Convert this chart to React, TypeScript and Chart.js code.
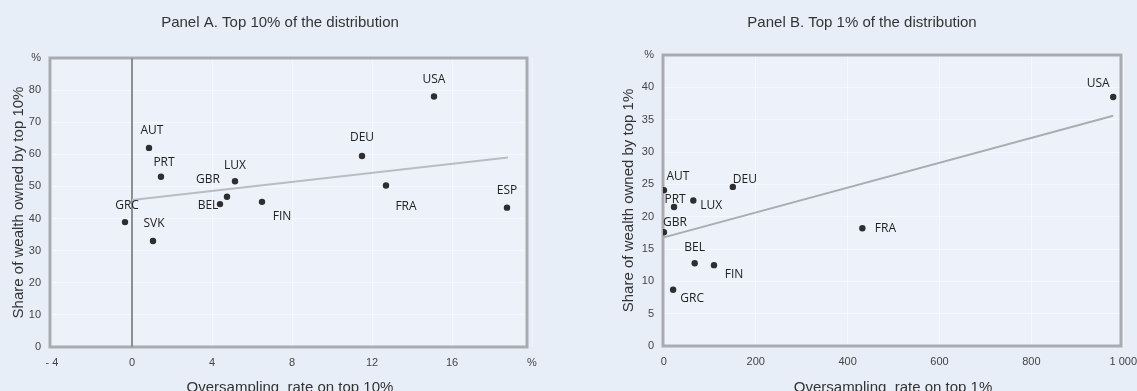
import React, { useEffect, useRef } from 'react';
import { Chart, registerables } from 'chart.js';
Chart.register(...registerables);

// ---------- Panel A data ----------
const countriesA = ['USA', 'DEU', 'FRA', 'ESP', 'AUT', 'PRT', 'LUX', 'GBR', 'BEL', 'FIN', 'GRC', 'SVK'];
const oversampA = [15.1, 11.5, 12.7, 18.75, 0.85, 1.45, 5.15, 4.75, 4.4, 6.5, -0.35, 1.05];
const shareA = [78, 59.5, 50.3, 43.4, 62, 53, 51.6, 46.8, 44.5, 45.2, 38.9, 33];
const trendAx = [0, 18.8];
const trendAy = [45.8, 59];
const xTicksA = [-4, 0, 4, 8, 12, 16, 20];
const yTicksA = [0, 10, 20, 30, 40, 50, 60, 70, 80, 90];
const labelDxA = [0, 0, 20, 0, 3, 3, 0, -19, -12, 20, 2, 1];
const labelDyA = [-17, -18, 21, -17, -17, -14, -16, -17, 1, 15, -17, -17];

// ---------- Panel B data ----------
const countriesB = ['USA', 'FRA', 'DEU', 'AUT', 'LUX', 'PRT', 'GBR', 'BEL', 'FIN', 'GRC'];
const oversampB = [978, 432, 150, 0, 64, 22, 0, 67, 109, 20];
const shareB = [38.5, 18.2, 24.6, 24.1, 22.5, 21.5, 17.6, 12.8, 12.5, 8.7];
const trendBx = [0, 978];
const trendBy = [16.8, 35.6];
const xTicksB = [0, 200, 400, 600, 800, 1000];
const yTicksB = [0, 5, 10, 15, 20, 25, 30, 35, 40, 45];
const labelDxB = [-15, 23, 12, 14, 18, 1, 11, 0, 20, 19];
const labelDyB = [-13, 0, -7, -14, 5, -7, -10, -16, 9, 9];

const W = 1137;
const H = 391;
const PAGE_BG = '#e8eef8';
const PLOT_BG = '#edf2fa';
const BORDER = '#a9abb1';
const TICK_FONT = { family: '"Liberation Sans", Arial, sans-serif', size: 11 };
const GRID = 'rgba(255,255,255,0.45)';

type PanelCfg = {
  names: string[];
  xs: number[];
  ys: number[];
  tx: number[];
  ty: number[];
  xTicks: number[];
  yTicks: number[];
  dx: number[];
  dy: number[];
  xMin: number;
  xMax: number;
  yMax: number;
  xLabel: (v: number) => string;
  yLabel: (v: number) => string;
  padding: { left: number; right: number; top: number; bottom: number };
  yAxisW: number;
  xAxisH: number;
  title: string;
  titleX: number;
  yTitle: string;
  yTitleX: number;
  xTitle: string;
  xTitleX: number;
  zeroLine: boolean;
  fillPage: boolean;
  trendColor: string;
};

function makeChart(canvas: HTMLCanvasElement, c: PanelCfg) {
  const deco = {
    id: 'deco' + c.title.slice(0, 7),
    beforeDraw(chart: any) {
      const ctx = chart.ctx;
      const a = chart.chartArea;
      ctx.save();
      if (c.fillPage) {
        ctx.fillStyle = PAGE_BG;
        ctx.fillRect(0, 0, W, H);
      }
      ctx.fillStyle = PLOT_BG;
      ctx.fillRect(a.left, a.top, a.right - a.left, a.bottom - a.top);
      ctx.restore();
    },
    beforeDatasetsDraw(chart: any) {
      const ctx = chart.ctx;
      const a = chart.chartArea;
      ctx.save();
      ctx.strokeStyle = BORDER;
      ctx.lineWidth = 3;
      ctx.strokeRect(a.left, a.top, a.right - a.left, a.bottom - a.top);
      if (c.zeroLine) {
        const x0 = chart.scales.x.getPixelForValue(0);
        ctx.strokeStyle = '#8d8f95';
        ctx.lineWidth = 2;
        ctx.beginPath();
        ctx.moveTo(x0, a.top);
        ctx.lineTo(x0, a.bottom);
        ctx.stroke();
      }
      ctx.restore();
    },
    afterDatasetsDraw(chart: any) {
      const ctx = chart.ctx;
      const meta = chart.getDatasetMeta(0);
      ctx.save();
      ctx.fillStyle = '#222';
      ctx.font = '12px "Open Sans", "Noto Sans", sans-serif';
      ctx.textAlign = 'center';
      ctx.textBaseline = 'middle';
      meta.data.forEach((pt: any, i: number) => {
        ctx.fillText(c.names[i], pt.x + c.dx[i], pt.y + c.dy[i]);
      });
      // titles
      ctx.fillStyle = '#333';
      ctx.font = '15px "Liberation Sans", Arial, sans-serif';
      ctx.textBaseline = 'alphabetic';
      ctx.fillText(c.title, c.titleX, 27);
      ctx.fillText(c.xTitle, c.xTitleX, 392);
      const a = chart.chartArea;
      ctx.translate(c.yTitleX, (a.top + a.bottom) / 2);
      ctx.rotate(-Math.PI / 2);
      ctx.textBaseline = 'middle';
      ctx.fillText(c.yTitle, 0, 0);
      ctx.restore();
    },
  };

  return new Chart(canvas, {
    type: 'scatter',
    data: {
      datasets: [
        {
          data: c.xs.map((x, i) => ({ x, y: c.ys[i] })),
          backgroundColor: '#2e2e30',
          borderColor: '#2e2e30',
          borderWidth: 0,
          pointRadius: 3.2,
          pointHoverRadius: 3.2,
        },
        {
          type: 'line',
          data: c.tx.map((x, i) => ({ x, y: c.ty[i] })),
          borderColor: c.trendColor,
          borderWidth: 2,
          pointRadius: 0,
          showLine: true,
          fill: false,
        } as any,
      ],
    },
    options: {
      responsive: false,
      animation: false,
      devicePixelRatio: 1,
      events: [],
      layout: { padding: c.padding },
      plugins: { legend: { display: false }, tooltip: { enabled: false }, title: { display: false } },
      scales: {
        x: {
          type: 'linear',
          min: c.xMin,
          max: c.xMax,
          border: { display: false },
          grid: { color: GRID, lineWidth: 1, drawTicks: false },
          ticks: {
            font: TICK_FONT,
            color: '#444',
            padding: 9,
            maxRotation: 0,
            autoSkip: false,
            callback: (v: any) => c.xLabel(Number(v)),
          },
          afterBuildTicks: (s: any) => {
            s.ticks = c.xTicks.map((v) => ({ value: v }));
          },
          afterFit: (s: any) => {
            s.height = c.xAxisH;
            s.paddingLeft = 0;
            s.paddingRight = 0;
          },
        },
        y: {
          type: 'linear',
          min: 0,
          max: c.yMax,
          border: { display: false },
          grid: { color: GRID, lineWidth: 1, drawTicks: false },
          ticks: {
            font: TICK_FONT,
            color: '#444',
            padding: 9,
            autoSkip: false,
            callback: (v: any) => c.yLabel(Number(v)),
          },
          afterBuildTicks: (s: any) => {
            s.ticks = c.yTicks.map((v) => ({ value: v }));
          },
          afterFit: (s: any) => {
            s.width = c.yAxisW;
            s.paddingTop = 0;
            s.paddingBottom = 0;
          },
        },
      },
    },
    plugins: [deco],
  } as any);
}

export default function App() {
  const refA = useRef<HTMLCanvasElement>(null);
  const refB = useRef<HTMLCanvasElement>(null);

  useEffect(() => {
    const chartA = makeChart(refA.current!, {
      names: countriesA,
      xs: oversampA,
      ys: shareA,
      tx: trendAx,
      ty: trendAy,
      xTicks: xTicksA,
      yTicks: yTicksA,
      dx: labelDxA,
      dy: labelDyA,
      xMin: -4.1,
      xMax: 19.75,
      yMax: 90,
      xLabel: (v) => (v === 20 ? '%' : v === -4 ? '- 4' : String(v)),
      yLabel: (v) => (v === 90 ? '%' : String(v)),
      padding: { left: 0, right: W - 527, top: 58, bottom: 0 },
      yAxisW: 50,
      xAxisH: H - 347,
      title: 'Panel A. Top 10% of the distribution',
      titleX: 280,
      yTitle: 'Share of wealth owned by top 10%',
      yTitleX: 19,
      xTitle: 'Oversampling  rate on top 10%',
      xTitleX: 290,
      zeroLine: true,
      fillPage: true,
      trendColor: '#b9bcc1',
    });
    const chartB = makeChart(refB.current!, {
      names: countriesB,
      xs: oversampB,
      ys: shareB,
      tx: trendBx,
      ty: trendBy,
      xTicks: xTicksB,
      yTicks: yTicksB,
      dx: labelDxB,
      dy: labelDyB,
      xMin: -2,
      xMax: 995,
      yMax: 45,
      xLabel: (v) => (v === 1000 ? '1 000' : String(v)),
      yLabel: (v) => (v === 45 ? '%' : String(v)),
      padding: { left: 663 - 50, right: W - 1121, top: 55, bottom: 0 },
      yAxisW: 50,
      xAxisH: H - 346,
      title: 'Panel B. Top 1% of the distribution',
      titleX: 862,
      yTitle: 'Share of wealth owned by top 1%',
      yTitleX: 629,
      xTitle: 'Oversampling  rate on top 1%',
      xTitleX: 893,
      zeroLine: false,
      fillPage: false,
      trendColor: '#a9acb1',
    });
    return () => {
      chartA.destroy();
      chartB.destroy();
    };
  }, []);

  return (
    <div style={{ position: 'fixed', left: 0, top: 0, width: W, height: H, background: PAGE_BG }}>
      <canvas ref={refA} width={W} height={H} style={{ position: 'absolute', left: 0, top: 0 }} />
      <canvas ref={refB} width={W} height={H} style={{ position: 'absolute', left: 0, top: 0, pointerEvents: 'none' }} />
    </div>
  );
}
